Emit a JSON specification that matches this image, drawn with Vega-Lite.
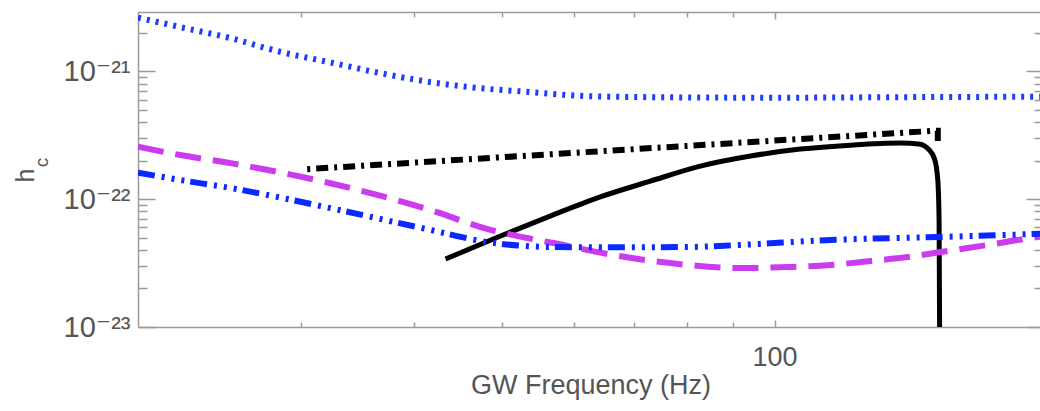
{
  "$schema": "https://vega.github.io/schema/vega-lite/v6.json",
  "autosize": {"type": "none"},
  "padding": {"left": 138, "top": 12, "right": 0, "bottom": 84},
  "width": 905,
  "height": 315,
  "background": "white",
  "config": {
    "view": {"stroke": null},
    "font": "Liberation Sans",
    "axis": {
      "grid": false,
      "domainColor": "#9a9a9a",
      "domainWidth": 1.5,
      "tickColor": "#9a9a9a",
      "tickWidth": 1.5,
      "labelColor": "#555555",
      "titleColor": "#555555",
      "labelFont": "Liberation Sans, DejaVu Sans",
      "titleFont": "Liberation Sans, DejaVu Sans",
      "titleFontWeight": "normal"
    }
  },
  "datasets": {
    "curves": [
      {"series": "inspiral", "f": 43.3, "h": 3.40e-23},
      {"series": "inspiral", "f": 49.8, "h": 5.14e-23},
      {"series": "inspiral", "f": 56.5, "h": 7.36e-23},
      {"series": "inspiral", "f": 64.2, "h": 1.04e-22},
      {"series": "inspiral", "f": 72.9, "h": 1.38e-22},
      {"series": "inspiral", "f": 82.8, "h": 1.81e-22},
      {"series": "inspiral", "f": 94.1, "h": 2.17e-22},
      {"series": "inspiral", "f": 106.8, "h": 2.46e-22},
      {"series": "inspiral", "f": 121.3, "h": 2.64e-22},
      {"series": "inspiral", "f": 137.8, "h": 2.74e-22},
      {"series": "inspiral", "f": 144.3, "h": 2.70e-22},
      {"series": "inspiral", "f": 148.0, "h": 2.45e-22},
      {"series": "inspiral", "f": 150.3, "h": 2.05e-22},
      {"series": "inspiral", "f": 151.5, "h": 1.41e-22},
      {"series": "inspiral", "f": 152.0, "h": 6.85e-23},
      {"series": "inspiral", "f": 152.2, "h": 1.0e-23},

      {"series": "envelope", "f": 30.3, "h": 1.71e-22},
      {"series": "envelope", "f": 150.5, "h": 3.42e-22},
      {"series": "envelope", "f": 151.5, "h": 3.42e-22},
      {"series": "envelope", "f": 151.5, "h": 2.64e-22},

      {"series": "advanced", "f": 19.8, "h": 2.57e-22},
      {"series": "advanced", "f": 22.05, "h": 2.21e-22},
      {"series": "advanced", "f": 25.06, "h": 1.91e-22},
      {"series": "advanced", "f": 32.3, "h": 1.33e-22},
      {"series": "advanced", "f": 41.7, "h": 8.2e-23},
      {"series": "advanced", "f": 48.2, "h": 5.83e-23},
      {"series": "advanced", "f": 53.3, "h": 4.96e-23},
      {"series": "advanced", "f": 57.0, "h": 4.53e-23},
      {"series": "advanced", "f": 65.4, "h": 3.72e-23},
      {"series": "advanced", "f": 76.7, "h": 3.16e-23},
      {"series": "advanced", "f": 91.7, "h": 2.89e-23},
      {"series": "advanced", "f": 103.4, "h": 2.94e-23},
      {"series": "advanced", "f": 115.3, "h": 3.05e-23},
      {"series": "advanced", "f": 127.7, "h": 3.28e-23},
      {"series": "advanced", "f": 140.3, "h": 3.52e-23},
      {"series": "advanced", "f": 155.3, "h": 3.93e-23},
      {"series": "advanced", "f": 171.8, "h": 4.37e-23},
      {"series": "advanced", "f": 191.8, "h": 4.96e-23},
      {"series": "advanced", "f": 198, "h": 5.1e-23},

      {"series": "enhanced", "f": 19.8, "h": 1.61e-22},
      {"series": "enhanced", "f": 22.05, "h": 1.41e-22},
      {"series": "enhanced", "f": 25.06, "h": 1.22e-22},
      {"series": "enhanced", "f": 32.3, "h": 8.5e-23},
      {"series": "enhanced", "f": 41.7, "h": 5.73e-23},
      {"series": "enhanced", "f": 48.2, "h": 4.61e-23},
      {"series": "enhanced", "f": 57.0, "h": 4.22e-23},
      {"series": "enhanced", "f": 67.6, "h": 4.2e-23},
      {"series": "enhanced", "f": 80.1, "h": 4.22e-23},
      {"series": "enhanced", "f": 91.0, "h": 4.37e-23},
      {"series": "enhanced", "f": 115.3, "h": 4.79e-23},
      {"series": "enhanced", "f": 151.4, "h": 5.05e-23},
      {"series": "enhanced", "f": 191.8, "h": 5.33e-23},
      {"series": "enhanced", "f": 198, "h": 5.38e-23},

      {"series": "initial", "f": 19.8, "h": 2.62e-21},
      {"series": "initial", "f": 22.05, "h": 2.21e-21},
      {"series": "initial", "f": 25.06, "h": 1.81e-21},
      {"series": "initial", "f": 28.5, "h": 1.41e-21},
      {"series": "initial", "f": 32.3, "h": 1.17e-21},
      {"series": "initial", "f": 36.7, "h": 9.64e-22},
      {"series": "initial", "f": 41.7, "h": 8.2e-22},
      {"series": "initial", "f": 47.3, "h": 7.36e-22},
      {"series": "initial", "f": 53.8, "h": 6.86e-22},
      {"series": "initial", "f": 62.1, "h": 6.38e-22},
      {"series": "initial", "f": 72.9, "h": 6.26e-22},
      {"series": "initial", "f": 100, "h": 6.2e-22},
      {"series": "initial", "f": 137.8, "h": 6.26e-22},
      {"series": "initial", "f": 198, "h": 6.32e-22}
    ]
  },
  "data": {"name": "curves"},
  "resolve": {"axis": {"x": "independent", "y": "independent"}},
  "layer": [
    {
      "transform": [{"filter": "datum.series === 'inspiral'"}],
      "mark": {"type": "line", "color": "#000000", "strokeWidth": 5, "clip": true, "strokeJoin": "round", "interpolate": "monotone"},
      "encoding": {
        "x": {
          "field": "f", "type": "quantitative",
          "scale": {"type": "log", "domain": [19.8, 198], "nice": false},
          "axis": {
            "orient": "bottom",
            "values": [30, 40, 50, 60, 70, 80, 90, 100],
            "labelExpr": "datum.value == 100 ? '100' : ''",
            "tickSize": {"condition": {"test": "datum.value == 100", "value": -7}, "value": -5},
            "labelPadding": 24,
            "labelFontSize": 27,
            "labelBaseline": "top",
            "title": "GW Frequency (Hz)",
            "titleFontSize": 27,
            "titlePadding": 2
          }
        },
        "y": {
          "field": "h", "type": "quantitative",
          "scale": {"type": "log", "domain": [1e-23, 2.9e-21], "nice": false},
          "axis": {
            "orient": "left",
            "values": [1e-23, 2e-23, 3e-23, 4e-23, 5e-23, 6e-23, 7e-23, 8e-23, 9e-23, 1e-22, 2e-22, 3e-22, 4e-22, 5e-22, 6e-22, 7e-22, 8e-22, 9e-22, 1e-21, 2e-21],
            "labelExpr": "datum.value > 0.9e-21 && datum.value < 1.1e-21 ? '10⁻²¹' : datum.value > 0.9e-22 && datum.value < 1.1e-22 ? '10⁻²²' : datum.value > 0.9e-23 && datum.value < 1.1e-23 ? '10⁻²³' : ''",
            "tickSize": {"condition": {"test": "abs(log(datum.value)/LN10 - round(log(datum.value)/LN10)) < 0.001", "value": -17}, "value": -9},
            "labelPadding": 25,
            "labelFontSize": 29,
            "labelBaseline": "middle",
            "labelFlush": true,
            "title": "h",
            "titleFontSize": 25,
            "titleAngle": -90,
            "titleAlign": "center",
            "titleBaseline": "alphabetic",
            "titleX": -105,
            "titleY": 163
          }
        }
      }
    },
    {
      "transform": [{"filter": "datum.series === 'envelope'"}],
      "mark": {"type": "line", "color": "#000000", "strokeWidth": 6, "strokeDash": [12, 6, 3, 6], "strokeDashOffset": 16, "clip": true},
      "encoding": {
        "x": {
          "field": "f", "type": "quantitative",
          "scale": {"type": "log", "domain": [19.8, 198], "nice": false},
          "axis": {
            "orient": "top",
            "values": [30, 40, 50, 60, 70, 80, 90, 100],
            "labels": false,
            "tickSize": {"condition": {"test": "datum.value == 100", "value": -7}, "value": -5},
            "title": null
          }
        },
        "y": {
          "field": "h", "type": "quantitative",
          "scale": {"type": "log", "domain": [1e-23, 2.9e-21], "nice": false},
          "axis": {
            "orient": "right",
            "values": [1e-23, 2e-23, 3e-23, 4e-23, 5e-23, 6e-23, 7e-23, 8e-23, 9e-23, 1e-22, 2e-22, 3e-22, 4e-22, 5e-22, 6e-22, 7e-22, 8e-22, 9e-22, 1e-21, 2e-21],
            "labels": false,
            "tickSize": {"condition": {"test": "abs(log(datum.value)/LN10 - round(log(datum.value)/LN10)) < 0.001", "value": -17}, "value": -9},
            "title": null
          }
        }
      }
    },
    {
      "transform": [{"filter": "datum.series === 'advanced'"}],
      "mark": {"type": "line", "color": "#cc3cef", "strokeWidth": 6, "strokeDash": [26, 12], "clip": true, "interpolate": "monotone"},
      "encoding": {
        "x": {
          "field": "f", "type": "quantitative",
          "scale": {"type": "log", "domain": [19.8, 198], "nice": false},
          "axis": null
        },
        "y": {
          "field": "h", "type": "quantitative",
          "scale": {"type": "log", "domain": [1e-23, 2.9e-21], "nice": false},
          "axis": {
            "orient": "left",
            "labels": false,
            "ticks": false,
            "domain": false,
            "title": "c",
            "titleFontSize": 19,
            "titleAngle": -90,
            "titleAlign": "center",
            "titleBaseline": "alphabetic",
            "titleX": -91,
            "titleY": 150
          }
        }
      }
    },
    {
      "transform": [{"filter": "datum.series === 'enhanced'"}],
      "mark": {"type": "line", "color": "#0a28ff", "strokeWidth": 6, "strokeDash": [17, 7, 3, 7, 3, 7, 3, 6], "clip": true, "interpolate": "monotone"},
      "encoding": {
        "x": {"field": "f", "type": "quantitative", "scale": {"type": "log", "domain": [19.8, 198], "nice": false}, "axis": null},
        "y": {"field": "h", "type": "quantitative", "scale": {"type": "log", "domain": [1e-23, 2.9e-21], "nice": false}, "axis": null}
      }
    },
    {
      "transform": [{"filter": "datum.series === 'initial'"}],
      "mark": {"type": "line", "color": "#1f3cff", "strokeWidth": 6, "strokeDash": [3, 6], "clip": true, "interpolate": "monotone"},
      "encoding": {
        "x": {"field": "f", "type": "quantitative", "scale": {"type": "log", "domain": [19.8, 198], "nice": false}, "axis": null},
        "y": {"field": "h", "type": "quantitative", "scale": {"type": "log", "domain": [1e-23, 2.9e-21], "nice": false}, "axis": null}
      }
    }
  ]
}
